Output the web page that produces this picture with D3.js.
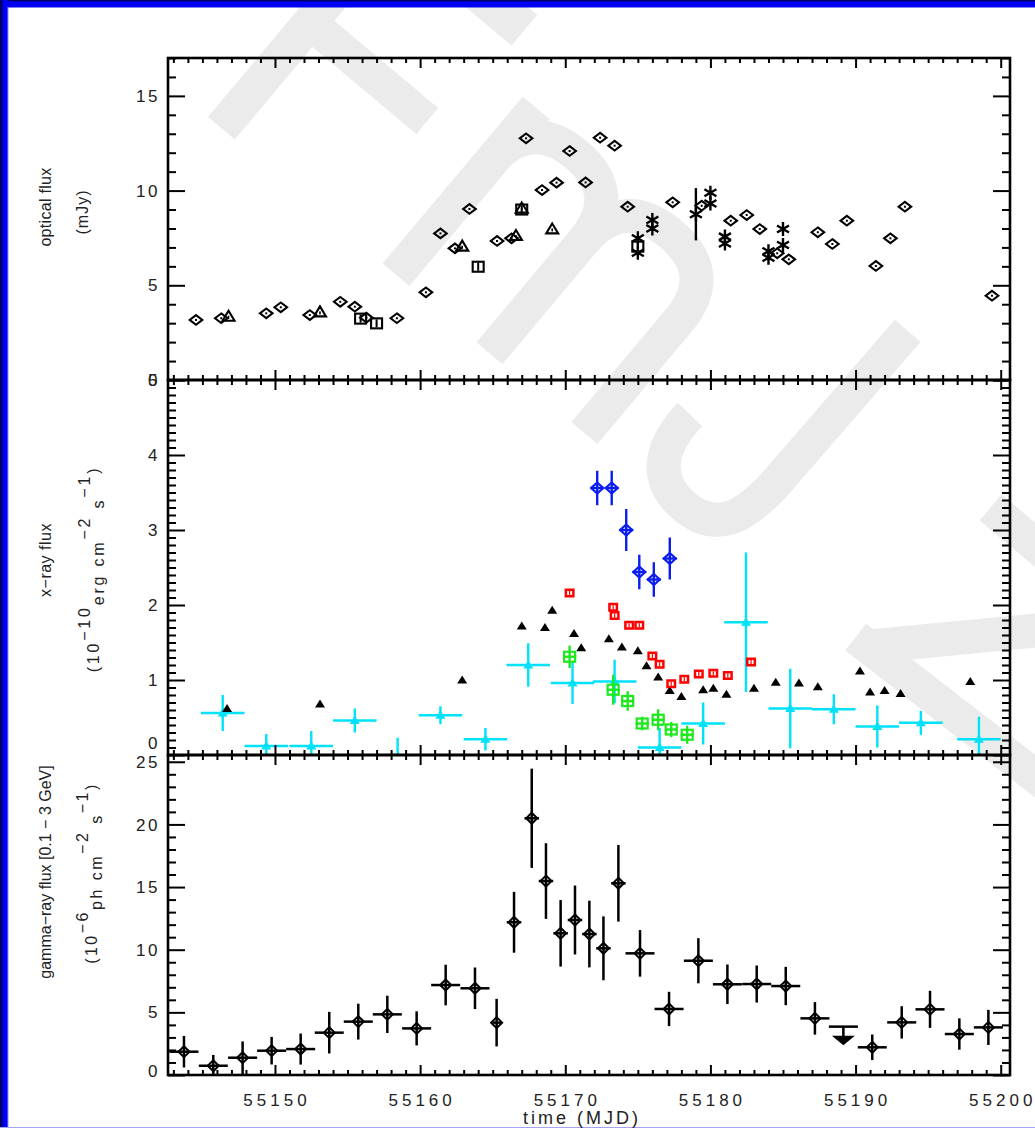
<!DOCTYPE html>
<html>
<head>
<meta charset="utf-8">
<script src="https://cdn.jsdelivr.net/npm/d3@7"></script>
<style>
  html, body { margin: 0; padding: 0; background: #fff; }
  svg { display: block; }
  text { font-family: "Liberation Sans", Arial, sans-serif; fill: #222; }
</style>
</head>
<body>
<svg id="chart" width="1035" height="1128"></svg>
<script>
// ---------------- axis ticks ----------------
const timeTicks = [55150, 55160, 55170, 55180, 55190, 55200];
const optTicks = [0, 5, 10, 15];
const xrayTicks = [0, 1, 2, 3, 4, 5];
const gammaTicks = [0, 5, 10, 15, 20, 25];

// ---------------- optical (mJy) ----------------
const optDiaMjd  = [55144.56, 55146.3, 55149.4, 55150.4, 55152.4, 55154.5, 55155.5, 55156.3, 55158.4, 55160.4,
                    55161.4, 55162.4, 55163.4, 55165.3, 55166.3, 55167.3, 55168.4, 55169.4, 55170.3, 55171.4,
                    55172.4, 55173.4, 55174.3, 55177.4, 55179.4, 55181.4, 55182.5, 55183.4, 55184.6, 55185.4,
                    55187.4, 55188.4, 55189.4, 55191.4, 55192.4, 55193.4, 55199.4];
const optDiaFlux = [3.17, 3.26, 3.52, 3.84, 3.43, 4.13, 3.87, 3.29, 3.26, 4.63,
                    7.74, 6.95, 9.03, 7.34, 7.48, 12.76, 10.03, 10.42, 12.09, 10.43,
                    12.79, 12.37, 9.15, 9.38, 9.2, 8.41, 8.71, 7.97, 6.69, 6.37,
                    7.8, 7.18, 8.41, 6.02, 7.48, 9.15, 4.45];
const optTriMjd  = [55146.8, 55153.1, 55162.9, 55166.6, 55167.0, 55169.1];
const optTriFlux = [3.34, 3.57, 7.04, 7.6, 9.05, 7.95];
const optSqMjd   = [55155.9, 55157.0, 55164.0, 55167.0, 55175.0];
const optSqFlux  = [3.24, 2.99, 5.98, 9.0, 7.04];
const optStarMjd  = [55175.0, 55175.0, 55176.0, 55176.0, 55179.0, 55180.0, 55180.0, 55181.0, 55181.0,
                     55184.0, 55184.0, 55185.0, 55185.0];
const optStarFlux = [7.48, 6.72, 8.45, 8.0, 8.75, 9.89, 9.32, 7.57, 7.21, 6.8, 6.45, 7.97, 7.13];
const optStarErr  = [0, 0, 0, 0, 1.38, 0, 0, 0, 0, 0, 0, 0, 0];

// ---------------- X-ray (1e-10 erg cm-2 s-1) ----------------
const xTriMjd  = [55146.7, 55153.1, 55162.9, 55167.0, 55168.6, 55169.1, 55170.6, 55171.1, 55173.0, 55173.9,
                  55175.0, 55175.6, 55176.4, 55177.2, 55178.0, 55179.5, 55180.2, 55181.1, 55183.0, 55184.5,
                  55186.1, 55187.4, 55190.3, 55191.0, 55192.0, 55193.1, 55197.9];
const xTriFlux = [0.62, 0.68, 1.0, 1.72, 1.7, 1.93, 1.62, 1.43, 1.55, 1.44,
                  1.39, 1.19, 1.04, 0.86, 0.78, 0.87, 0.89, 0.81, 0.89, 0.97,
                  0.96, 0.91, 1.12, 0.84, 0.86, 0.82, 0.98];
const xRedMjd  = [55170.3, 55173.3, 55173.4, 55174.4, 55175.1, 55176.0, 55176.5, 55177.3, 55178.2, 55179.2,
                  55180.2, 55181.2, 55182.8];
const xRedFlux = [2.16, 1.97, 1.86, 1.73, 1.73, 1.32, 1.21, 0.95, 1.01, 1.08, 1.09, 1.06, 1.24];
const xBlueMjd  = [55172.2, 55173.2, 55174.2, 55175.1, 55176.1, 55177.2];
const xBlueFlux = [3.56, 3.56, 3.0, 2.44, 2.34, 2.62];
const xBlueErr  = [0.23, 0.23, 0.28, 0.23, 0.23, 0.28];
const xGreenMjd  = [55170.3, 55173.3, 55174.3, 55175.3, 55176.4, 55177.3, 55178.4];
const xGreenFlux = [1.31, 0.87, 0.72, 0.42, 0.47, 0.34, 0.27];
const xGreenErr  = [0.15, 0.2, 0.13, 0.09, 0.14, 0.1, 0.12];
const xCyanMjd  = [55146.4, 55149.4, 55152.5, 55155.5, 55158.45, 55161.4, 55164.5, 55167.45, 55170.5, 55173.4,
                   55176.5, 55179.5, 55182.45, 55185.5, 55188.5, 55191.5, 55194.5, 55198.5];
const xCyanFlux = [0.56, 0.12, 0.12, 0.46, -0.08, 0.53, 0.21, 1.2, 0.96, 0.98,
                   0.1, 0.42, 1.77, 0.62, 0.61, 0.38, 0.43, 0.21];
const xCyanErr  = [0.24, 0.16, 0.2, 0.16, 0.31, 0.12, 0.15, 0.29, 0.28, 0.29,
                   0.26, 0.28, 0.93, 0.53, 0.2, 0.28, 0.16, 0.3];
const xCyanBin  = 1.5;

// ---------------- gamma-ray (1e-6 ph cm-2 s-1) ----------------
const gMjd  = [55143.73, 55145.75, 55147.77, 55149.77, 55151.77, 55153.74, 55155.74, 55157.74, 55159.76, 55161.76,
               55163.78, 55165.27, 55166.47, 55167.69, 55168.67, 55169.68, 55170.67, 55171.66, 55172.63, 55173.66,
               55175.15, 55177.15, 55179.17, 55181.17, 55183.19, 55185.19, 55187.2, 55191.15, 55193.18, 55195.13,
               55197.15, 55199.15];
const gFlux = [1.86, 0.74, 1.38, 1.94, 2.07, 3.38, 4.26, 4.84, 3.72, 7.18,
               6.92, 4.18, 12.19, 20.49, 15.48, 11.31, 12.37, 11.25, 10.11, 15.3,
               9.71, 5.27, 9.12, 7.24, 7.26, 7.1, 4.52, 2.21, 4.2, 5.24,
               3.27, 3.8];
const gErr  = [1.26, 0.86, 1.3, 1.1, 1.24, 1.66, 1.43, 1.49, 1.36, 1.62,
               1.66, 1.9, 2.43, 3.96, 3.02, 2.66, 2.75, 2.66, 2.55, 3.06,
               1.86, 1.37, 1.8, 1.58, 1.48, 1.53, 1.3, 1.02, 1.29, 1.48,
               1.25, 1.4];
const gBin  = [1, 1, 1, 1, 1, 1, 1, 1, 1, 1,
               1, 0.3, 0.5, 0.5, 0.5, 0.5, 0.5, 0.5, 0.5, 0.5,
               1, 1, 1, 1, 1, 1, 1, 1, 1, 1,
               1, 1];
const gUlMjd = [55189.16];
const gUlFlux = [3.86];
const gUlBin = [1];

// ---------------- layout ----------------
const svg = d3.select("#chart");
const X0 = 168, X1 = 1010;
const x = d3.scaleLinear().domain([55142.63, 55200.64]).range([X0, X1]);

const yOpt = d3.scaleLinear().domain([0, 17]).range([380, 58]);
const yX   = d3.scaleLinear().domain([0, 5]).range([755, 380]);
const yG   = d3.scaleLinear().domain([0, 25.54]).range([1075, 755]);

// background
svg.append("rect").attr("width", 1035).attr("height", 1128).attr("fill", "#fff");

// faint lettering behind the plots
const wm = svg.append("g").attr("transform", "rotate(40)")
  .attr("fill", "none").attr("stroke", "#ebebeb").attr("stroke-linecap", "butt").attr("stroke-linejoin", "round");
const wmStrokes = [
  { d: "M252,-44L252,-334", w: 35 },
  { d: "M235,-314L421,-314", w: 40 },
  { d: "M235,-182L405,-182", w: 34 },
  { d: "M480,-44V-262", w: 35 },
  { d: "M480,-190C480,-240 510,-252 541,-252C580,-252 602,-232 602,-190V-44", w: 34 },
  { d: "M602,-190C602,-232 625,-252 664,-252C705,-252 726,-232 726,-190V-44", w: 34 },
  { d: "M795,-126C792,-80 810,-52 850,-52C890,-52 905,-80 905,-140L908,-330", w: 34 },
  { d: "M1085,-248L1275,-248", w: 34 },
  { d: "M1076,-58L1255,-240", w: 34 },
  { d: "M1065,-62L1320,-72", w: 34 }
];
wm.selectAll("path").data(wmStrokes).join("path")
  .attr("d", d => d.d).attr("stroke-width", d => d.w);

// window frame
svg.append("rect").attr("x", 0).attr("y", 0).attr("width", 1035).attr("height", 7.5).attr("fill", "#0000f6");
svg.append("rect").attr("x", 0).attr("y", 0).attr("width", 1035).attr("height", 1.5).attr("fill", "#00006a");
svg.append("rect").attr("x", 0).attr("y", 0).attr("width", 8).attr("height", 1128).attr("fill", "#0000f6");
svg.append("rect").attr("x", 0).attr("y", 0).attr("width", 2.7).attr("height", 1128).attr("fill", "#00006a");
svg.append("rect").attr("x", 7).attr("y", 7).attr("width", 1.3).attr("height", 1121).attr("fill", "#4646ff");
svg.append("rect").attr("x", 0).attr("y", 1127).attr("width", 1035).attr("height", 1).attr("fill", "#a4a4f4");

// ---------------- clip paths ----------------
const defs = svg.append("defs");
function clip(id, y0, y1) {
  defs.append("clipPath").attr("id", id).append("rect")
    .attr("x", X0).attr("y", y0).attr("width", X1 - X0).attr("height", y1 - y0);
  return svg.append("g").attr("clip-path", `url(#${id})`);
}

// ---------------- symbols ----------------
const diamond = (hw, hh) => `M0,${-hh}L${hw},0L0,${hh}L${-hw},0Z`;
const triangle = (hw, top, base) => `M0,${-top}L${hw},${base}L${-hw},${base}Z`;
const star = "M0,-7V7M-6,-3.5L6,3.5M-6,3.5L6,-3.5";

function zip(a, b, c, d) { return a.map((v, i) => ({ t: v, f: b[i], e: c ? c[i] : 0, b: d ? d[i] : 0 })); }

// ---------------- optical panel ----------------
const g1 = clip("clipOpt", 58, 380);
const dia1 = zip(optDiaMjd, optDiaFlux);
g1.selectAll(".odia").data(dia1).join("path").attr("class", "odia")
  .attr("transform", d => `translate(${x(d.t)},${yOpt(d.f)})`)
  .attr("d", diamond(6.3, 4.8)).attr("fill", "none").attr("stroke", "#000").attr("stroke-width", 2.1);
g1.selectAll(".odot").data(dia1).join("rect").attr("class", "odot")
  .attr("x", d => x(d.t) - 1).attr("y", d => yOpt(d.f) - 1).attr("width", 2).attr("height", 2).attr("fill", "#000");

const tri1 = zip(optTriMjd, optTriFlux);
g1.selectAll(".otri").data(tri1).join("path").attr("class", "otri")
  .attr("transform", d => `translate(${x(d.t)},${yOpt(d.f)})`)
  .attr("d", triangle(6, 6, 4)).attr("fill", "none").attr("stroke", "#000").attr("stroke-width", 2.1);
g1.selectAll(".otdot").data(tri1).join("rect").attr("class", "otdot")
  .attr("x", d => x(d.t) - 0.8).attr("y", d => yOpt(d.f) - 1).attr("width", 1.6).attr("height", 3).attr("fill", "#000");

const sq1 = zip(optSqMjd, optSqFlux);
g1.selectAll(".osq").data(sq1).join("rect").attr("class", "osq")
  .attr("x", d => x(d.t) - 5.5).attr("y", d => yOpt(d.f) - 5).attr("width", 11).attr("height", 10)
  .attr("fill", "none").attr("stroke", "#000").attr("stroke-width", 2.1);
g1.selectAll(".osqdot").data(sq1).join("rect").attr("class", "osqdot")
  .attr("x", d => x(d.t) - 1).attr("y", d => yOpt(d.f) - 4).attr("width", 2).attr("height", 8).attr("fill", "#000");

const st1 = zip(optStarMjd, optStarFlux, optStarErr);
g1.selectAll(".oerr").data(st1.filter(d => d.e > 0)).join("line").attr("class", "oerr")
  .attr("x1", d => x(d.t)).attr("x2", d => x(d.t))
  .attr("y1", d => yOpt(d.f - d.e)).attr("y2", d => yOpt(d.f + d.e))
  .attr("stroke", "#000").attr("stroke-width", 2.4);
g1.selectAll(".ostar").data(st1).join("path").attr("class", "ostar")
  .attr("transform", d => `translate(${x(d.t)},${yOpt(d.f)})`)
  .attr("d", star).attr("fill", "none").attr("stroke", "#000").attr("stroke-width", 2.4);

// ---------------- X-ray panel ----------------
const g2 = clip("clipX", 380, 755);
const cyan = "#00e1fa";
const cy = zip(xCyanMjd, xCyanFlux, xCyanErr);
g2.selectAll(".cyv").data(cy).join("line").attr("class", "cyv")
  .attr("x1", d => x(d.t)).attr("x2", d => x(d.t))
  .attr("y1", d => yX(d.f - d.e)).attr("y2", d => yX(d.f + d.e))
  .attr("stroke", cyan).attr("stroke-width", 2.4);
g2.selectAll(".cyh").data(cy).join("line").attr("class", "cyh")
  .attr("x1", d => x(d.t - xCyanBin)).attr("x2", d => x(d.t + xCyanBin))
  .attr("y1", d => yX(d.f)).attr("y2", d => yX(d.f))
  .attr("stroke", cyan).attr("stroke-width", 2.4);
g2.selectAll(".cyt").data(cy).join("path").attr("class", "cyt")
  .attr("transform", d => `translate(${x(d.t)},${yX(d.f)})`)
  .attr("d", triangle(5, 5, 3.5)).attr("fill", cyan);

const kt = zip(xTriMjd, xTriFlux);
g2.selectAll(".kt").data(kt).join("path").attr("class", "kt")
  .attr("transform", d => `translate(${x(d.t)},${yX(d.f)})`)
  .attr("d", triangle(5, 4.5, 3.5)).attr("fill", "#000");

const red = zip(xRedMjd, xRedFlux);
g2.selectAll(".rs").data(red).join("rect").attr("class", "rs")
  .attr("x", d => x(d.t) - 5).attr("y", d => yX(d.f) - 4.5).attr("width", 10).attr("height", 9).attr("fill", "#ff0000");
g2.selectAll(".rsi").data(red).join("rect").attr("class", "rsi")
  .attr("x", d => x(d.t) - 2.5).attr("y", d => yX(d.f) - 2).attr("width", 5).attr("height", 4).attr("fill", "#fff");
g2.selectAll(".rsc").data(red).join("rect").attr("class", "rsc")
  .attr("x", d => x(d.t) - 0.6).attr("y", d => yX(d.f) - 2).attr("width", 1.2).attr("height", 4).attr("fill", "#ff0000");

const green = "#1ee81e";
const gr = zip(xGreenMjd, xGreenFlux, xGreenErr);
g2.selectAll(".grv").data(gr).join("line").attr("class", "grv")
  .attr("x1", d => x(d.t)).attr("x2", d => x(d.t))
  .attr("y1", d => Math.max(yX(d.f - d.e), yX(d.f) + 5.5)).attr("y2", d => Math.min(yX(d.f + d.e), yX(d.f) - 5.5))
  .attr("stroke", green).attr("stroke-width", 2.4);
g2.selectAll(".grh").data(gr).join("line").attr("class", "grh")
  .attr("x1", d => x(d.t - 0.45)).attr("x2", d => x(d.t + 0.45))
  .attr("y1", d => yX(d.f)).attr("y2", d => yX(d.f))
  .attr("stroke", green).attr("stroke-width", 2.4);
g2.selectAll(".grs").data(gr).join("rect").attr("class", "grs")
  .attr("x", d => x(d.t) - 5.5).attr("y", d => yX(d.f) - 5).attr("width", 11).attr("height", 10)
  .attr("fill", "none").attr("stroke", green).attr("stroke-width", 2.2);

const blue = "#0a1ef0";
const bl = zip(xBlueMjd, xBlueFlux, xBlueErr);
g2.selectAll(".blv").data(bl).join("line").attr("class", "blv")
  .attr("x1", d => x(d.t)).attr("x2", d => x(d.t))
  .attr("y1", d => yX(d.f - d.e)).attr("y2", d => yX(d.f + d.e))
  .attr("stroke", blue).attr("stroke-width", 2.4);
g2.selectAll(".blh").data(bl).join("line").attr("class", "blh")
  .attr("x1", d => x(d.t - 0.48)).attr("x2", d => x(d.t + 0.48))
  .attr("y1", d => yX(d.f)).attr("y2", d => yX(d.f))
  .attr("stroke", blue).attr("stroke-width", 2.4);
g2.selectAll(".bld").data(bl).join("path").attr("class", "bld")
  .attr("transform", d => `translate(${x(d.t)},${yX(d.f)})`)
  .attr("d", diamond(6, 5.5)).attr("fill", "none").attr("stroke", blue).attr("stroke-width", 2.2);

// ---------------- gamma-ray panel ----------------
const g3 = clip("clipG", 755, 1075);
const gam = zip(gMjd, gFlux, gErr, gBin);
g3.selectAll(".gv").data(gam).join("line").attr("class", "gv")
  .attr("x1", d => x(d.t)).attr("x2", d => x(d.t))
  .attr("y1", d => yG(d.f - d.e)).attr("y2", d => yG(d.f + d.e))
  .attr("stroke", "#000").attr("stroke-width", 2.5);
g3.selectAll(".gh").data(gam.filter(d => d.b > 0)).join("line").attr("class", "gh")
  .attr("x1", d => x(d.t - d.b)).attr("x2", d => x(d.t + d.b))
  .attr("y1", d => yG(d.f)).attr("y2", d => yG(d.f))
  .attr("stroke", "#000").attr("stroke-width", 2.5);
g3.selectAll(".gd").data(gam).join("path").attr("class", "gd")
  .attr("transform", d => `translate(${x(d.t)},${yG(d.f)})`)
  .attr("d", diamond(5.5, 5.5)).attr("fill", "none").attr("stroke", "#000").attr("stroke-width", 2);

// upper limit
const ul = zip(gUlMjd, gUlFlux, null, gUlBin);
g3.selectAll(".ulh").data(ul).join("line").attr("class", "ulh")
  .attr("x1", d => x(d.t - d.b)).attr("x2", d => x(d.t + d.b))
  .attr("y1", d => yG(d.f)).attr("y2", d => yG(d.f))
  .attr("stroke", "#000").attr("stroke-width", 2.5);
g3.selectAll(".ulv").data(ul).join("line").attr("class", "ulv")
  .attr("x1", d => x(d.t)).attr("x2", d => x(d.t))
  .attr("y1", d => yG(d.f)).attr("y2", d => yG(d.f) + 10)
  .attr("stroke", "#000").attr("stroke-width", 2.5);
g3.selectAll(".ula").data(ul).join("path").attr("class", "ula")
  .attr("transform", d => `translate(${x(d.t)},${yG(d.f) + 9})`)
  .attr("d", "M-11.5,0L11.5,0L0,9.5Z").attr("fill", "#000");

// ---------------- axes ----------------
const axes = svg.append("g").attr("class", "axes");
const xMinor = d3.range(55143, 55201, 1).filter(v => !timeTicks.includes(v));

function styleAxis(sel) {
  sel.select(".domain").remove();
  sel.selectAll("line").attr("stroke", "#000").attr("stroke-width", 2);
  sel.selectAll("text").remove();
}

function frame(y, top, bottom, majors, minors) {
  const g = axes.append("g");
  // y ticks, left and right, pointing inward
  g.append("g").attr("transform", `translate(${X0},0)`)
    .call(d3.axisLeft(y).tickValues(majors).tickSize(-17)).call(styleAxis);
  g.append("g").attr("transform", `translate(${X0},0)`)
    .call(d3.axisLeft(y).tickValues(minors).tickSize(-8)).call(styleAxis);
  g.append("g").attr("transform", `translate(${X1},0)`)
    .call(d3.axisRight(y).tickValues(majors).tickSize(-17)).call(styleAxis);
  g.append("g").attr("transform", `translate(${X1},0)`)
    .call(d3.axisRight(y).tickValues(minors).tickSize(-8)).call(styleAxis);
  // time ticks, top and bottom
  g.append("g").attr("transform", `translate(0,${bottom})`)
    .call(d3.axisBottom(x).tickValues(timeTicks).tickSize(-10)).call(styleAxis);
  g.append("g").attr("transform", `translate(0,${bottom})`)
    .call(d3.axisBottom(x).tickValues(xMinor).tickSize(-5)).call(styleAxis);
  g.append("g").attr("transform", `translate(0,${top})`)
    .call(d3.axisTop(x).tickValues(timeTicks).tickSize(-10)).call(styleAxis);
  g.append("g").attr("transform", `translate(0,${top})`)
    .call(d3.axisTop(x).tickValues(xMinor).tickSize(-5)).call(styleAxis);
  g.append("rect").attr("x", X0).attr("y", top).attr("width", X1 - X0).attr("height", bottom - top)
    .attr("fill", "none").attr("stroke", "#000").attr("stroke-width", 2.6);
}

const optMinor = d3.range(0, 17.01, 1).filter(v => !optTicks.includes(v));
const xrayMinor = d3.range(0, 50, 1).map(v => v / 10).filter(v => v % 1 !== 0);
const gMinor = d3.range(0, 26, 1).filter(v => !gammaTicks.includes(v));
frame(yOpt, 58, 380, optTicks, optMinor);
frame(yX, 380, 755, xrayTicks, xrayMinor);
frame(yG, 755, 1075, gammaTicks, gMinor);

// tick labels
const labels = svg.append("g").attr("class", "labels");
function yLabels(y, ticks, lift) {
  labels.append("g").selectAll("text").data(ticks).join("text")
    .attr("x", 160).attr("y", d => y(d) - (d === 0 ? lift : 0)).attr("dy", "0.36em")
    .attr("text-anchor", "end").attr("font-size", 17).attr("letter-spacing", 2.5)
    .text(d => d);
}
yLabels(yOpt, optTicks, 0);
yLabels(yX, xrayTicks, 12);
yLabels(yG, gammaTicks, 4);

labels.append("g").selectAll("text").data(timeTicks).join("text")
  .attr("x", d => x(d) + 2).attr("y", 1106)
  .attr("text-anchor", "middle").attr("font-size", 17).attr("letter-spacing", 4)
  .text(d => d);
labels.append("text").attr("x", 582).attr("y", 1124)
  .attr("text-anchor", "middle").attr("font-size", 18).attr("letter-spacing", 3)
  .text("time (MJD)");

// axis titles, rotated
function vtitle(xp, yp, parts, size, spacing) {
  const t = labels.append("text")
    .attr("transform", `translate(${xp},${yp}) rotate(-90)`)
    .attr("text-anchor", "middle").attr("font-size", size).attr("letter-spacing", spacing);
  const shift = { "0": 0, "-1": -0.55, "1": 0.3 };
  let prev = 0;
  parts.forEach(p => {
    const cur = shift[String(p.l)];
    t.append("tspan").attr("dy", `${(cur - prev).toFixed(2)}em`).text(p.s);
    prev = cur;
  });
}
vtitle(51, 207, [{ s: "optical flux", l: 0 }], 16, 0.3);
vtitle(88, 212, [{ s: "(mJy)", l: 0 }], 16, 1);
vtitle(51, 560, [{ s: "x\u2212ray flux", l: 0 }], 16, 0.5);
vtitle(99, 569, [
  { s: "(10", l: 0 }, { s: "\u221210", l: -1 }, { s: "erg cm", l: 1 }, { s: "\u22122", l: -1 },
  { s: " s", l: 1 }, { s: "\u22121", l: -1 }, { s: ")", l: 0 }], 16, 2.8);
vtitle(51, 872, [{ s: "gamma\u2212ray flux [0.1 \u2212 3 GeV]", l: 0 }], 16, 0);
vtitle(97, 873, [
  { s: "(10", l: 0 }, { s: "\u22126", l: -1 }, { s: "ph cm", l: 1 }, { s: "\u22122", l: -1 },
  { s: " s", l: 1 }, { s: "\u22121", l: -1 }, { s: ")", l: 0 }], 16, 2.5);
</script>
</body>
</html>
